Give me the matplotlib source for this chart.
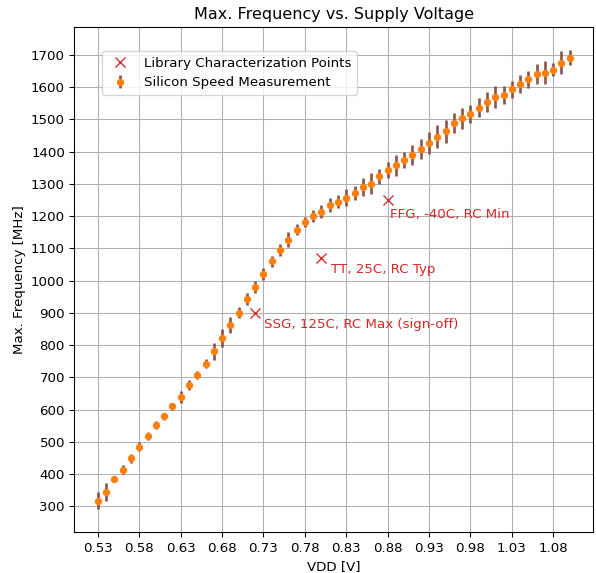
"""
Max. frequency vs. supply voltage: silicon speed measurement against
library characterization corners.
"""
import numpy as np
from matplotlib import pyplot as plt

VDD = np.round(np.arange(0.53, 1.105, 0.01), 2)
FMAX = [318, 345, 384, 414, 450, 485, 518, 552, 580, 610,
        640, 676, 708, 742, 781, 823, 862, 900, 943, 980,
        1021, 1060, 1094, 1127, 1158, 1182, 1200, 1214, 1235, 1245,
        1257, 1272, 1289, 1301, 1323, 1343, 1357, 1374, 1389, 1409,
        1426, 1446, 1463, 1489, 1503, 1516, 1536, 1554, 1569, 1576,
        1593, 1609, 1624, 1641, 1644, 1654, 1675, 1691]
FERR = [27, 27, 8, 13, 14, 14, 12, 13, 11, 10,
        18, 16, 12, 14, 26, 28, 24, 17, 18, 19,
        19, 17, 19, 24, 18, 15, 19, 19, 21, 19,
        26, 22, 28, 34, 22, 25, 32, 25, 30, 31,
        35, 35, 35, 32, 33, 28, 29, 32, 33, 28,
        27, 28, 27, 31, 36, 20, 36, 24]

LIB_VDD = [0.72, 0.80, 0.88]
LIB_FREQ = [900, 1070, 1250]
LIB_LABELS = ["SSG, 125C, RC Max (sign-off)", "TT, 25C, RC Typ", "FFG, -40C, RC Min"]
LABEL_POS = [(0.7305, 864), (0.8113, 1034), (0.8825, 1206)]

if __name__ == "__main__":
    fig = plt.figure(figsize=(596 / 96, 573 / 96), dpi=96)
    ax = fig.add_axes([0.1247, 0.071, 0.8708, 0.8819])

    ax.plot(LIB_VDD, LIB_FREQ, 'x', color='#d62728', markersize=7,
            label="Library Characterization Points")
    ax.errorbar(VDD, FMAX, yerr=FERR, fmt='o', color='#ff7f0e', markersize=4.5,
                ecolor='#8c564b', elinewidth=2, capsize=0,
                label="Silicon Speed Measurement")

    for (tx, ty), text in zip(LABEL_POS, LIB_LABELS):
        ax.text(tx, ty, text, color='#d62728', fontsize=10, ha='left', va='center')

    ax.set_xticks(np.round(np.arange(0.53, 1.09, 0.05), 2))
    ax.set_yticks(np.arange(300, 1701, 100))
    ax.grid(True, color='#b0b0b0', linewidth=0.8)
    ax.set_xlabel("VDD [V]")
    ax.set_ylabel("Max. Frequency [MHz]")
    ax.set_title("Max. Frequency vs. Supply Voltage", fontsize=12)
    ax.legend(loc='upper left', bbox_to_anchor=(0.04, 0.965))

    fig.savefig("out.png", dpi=96)
